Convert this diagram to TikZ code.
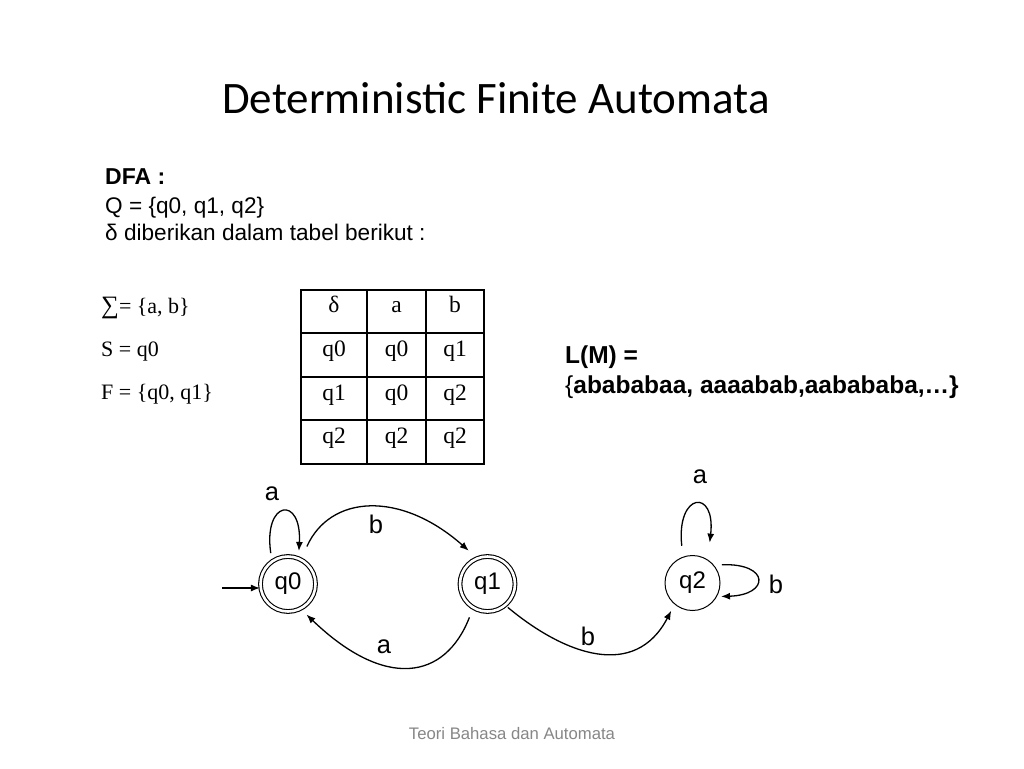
\documentclass[tikz,border=0pt]{standalone}
\usepackage{fontspec}
\setmainfont{Liberation Sans}
\newfontfamily\timesf{Liberation Serif}
\newfontfamily\calib{Carlito}
\usetikzlibrary{arrows.meta}
\tikzset{
  body/.style={font=\fontsize{22.6}{27}\selectfont, inner sep=0pt},
  bodyb/.style={font=\fontsize{23}{27}\selectfont\bfseries, inner sep=0pt},
  lmtext/.style={font=\fontsize{24.5}{29}\selectfont\bfseries, inner sep=0pt},
  tms/.style={font=\fontsize{22}{26}\selectfont\timesf, inner sep=0pt},
  cell/.style={font=\fontsize{23.5}{28}\selectfont\timesf, inner sep=0pt, anchor=base},
  grid/.style={line width=1.6pt},
  accept/.style={circle, draw, double, double distance=2.6pt, line width=1.1pt, minimum size=55pt, inner sep=0pt, font=\fontsize{24}{28}\selectfont},
  plain/.style={circle, draw, line width=1pt, minimum size=55pt, inner sep=0pt, font=\fontsize{24}{28}\selectfont},
  edge/.style={-{Latex[length=9pt,width=7pt]}, line width=1.3pt},
  elab/.style={font=\fontsize{25.5}{30}\selectfont, inner sep=0pt, anchor=base},
}
\begin{document}
\begin{tikzpicture}[x=1pt,y=-1pt]
\fill[white] (0,0) rectangle (1024,768);
\useasboundingbox (0,0) rectangle (1024,768);

% title
\node[font=\fontsize{45}{54}\selectfont\calib, inner sep=0pt, anchor=base] (title) at (496,113) {Deterministic Finite Automata};

% DFA block
\node[bodyb, anchor=base west] (dfa) at (105,184) {DFA :};
\node[body, anchor=base west] (qset) at (105,213) {Q = \{q0, q1, q2\}};
\node[body, anchor=base west] (delta) at (105,240) {δ diberikan dalam tabel berikut :};

% left definitions
\node[tms, anchor=base west] (sig) at (101,313) {{\fontsize{25}{28}\selectfont ∑}= \{a, b\}};
\node[tms, anchor=base west] (start) at (101,356) {S = q0};
\node[tms, anchor=base west] (fin) at (101,399) {F = \{q0, q1\}};

% table
\draw[grid] (301,290) rectangle (484,464);
\draw[grid] (367,290) -- (367,464);
\draw[grid] (426,290) -- (426,464);
\draw[grid] (301,333) -- (484,333);
\draw[grid] (301,377) -- (484,377);
\draw[grid] (301,420) -- (484,420);
\node[cell] (h1) at (334,312) {δ};
\node[cell] (h2) at (396.5,312) {a};
\node[cell] (h3) at (455,312) {b};
\node[cell] (r11) at (334,356) {q0};
\node[cell] (r12) at (396.5,356) {q0};
\node[cell] (r13) at (455,356) {q1};
\node[cell] (r21) at (334,400) {q1};
\node[cell] (r22) at (396.5,400) {q0};
\node[cell] (r23) at (455,400) {q2};
\node[cell] (r31) at (334,443) {q2};
\node[cell] (r32) at (396.5,443) {q2};
\node[cell] (r33) at (455,443) {q2};

% L(M)
\node[lmtext, anchor=base west] (lm1) at (565,363) {L(M) =};
\node[lmtext, anchor=base west] (lm2) at (565,393) {{\mdseries\{}abababaa, aaaabab,aabababa,\dots\}};

% states
\node[accept] (q0) at (288,584) {q0};
\node[accept] (q1) at (487.5,584) {q1};
\node[plain] (q2) at (692.5,583) {q2};

% initial arrow
\coordinate (init) at (222,588);
\draw[edge] (init) -- (init -| q0.west);

% transitions
\draw[edge, shorten <=8pt, shorten >=7pt] (q0.125) .. controls (263,500) and (302,495) .. (q0.68);
\node[elab] (la0) at (272,500) {a};

\draw[edge, shorten <=14pt, shorten >=11pt] (q0.62) .. controls (330,495) and (400,490) .. (q1.112);
\node[elab] (lb01) at (376,533) {b};

\draw[edge, shorten <=10pt, shorten >=8pt] (q1.239) .. controls (445,680) and (385,690) .. (q0.297);
\node[elab] (la10) at (384,653) {a};

\draw[edge, shorten <=3pt, shorten >=7pt] (q1.-50) .. controls (565,655) and (635,680) .. (q2.230);
\node[elab] (lb12) at (588,645) {b};

\draw[edge, shorten <=11pt, shorten >=17pt] (q2.110) .. controls (676,492) and (716,488) .. (q2.57);
\node[elab] (la2) at (700,483) {a};

\draw[edge, shorten <=8pt, shorten >=4pt] (q2.40) .. controls (770,563) and (770,595) .. (q2.-29);
\node[elab] (lb2) at (776,593) {b};

% footer
\node[font=\fontsize{16.7}{20}\selectfont, text=black!47, inner sep=0pt, anchor=base] (foot) at (512,739) {Teori Bahasa dan Automata};
\end{tikzpicture}
\end{document}
